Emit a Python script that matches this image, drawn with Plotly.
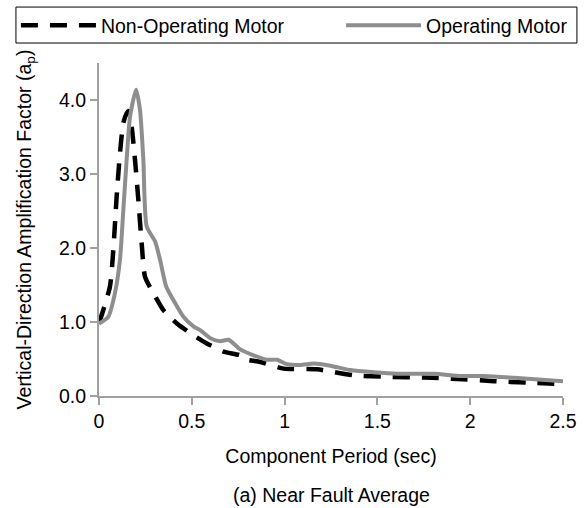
import plotly.graph_objects as go

# Non-operating motor (black dashed)
x_non = [0.0, 0.059, 0.077, 0.095, 0.113, 0.131, 0.149, 0.16, 0.176, 0.194, 0.212, 0.23, 0.248,
         0.293, 0.347, 0.42, 0.509, 0.581, 0.671, 0.761, 0.797, 0.869, 0.995, 1.175, 1.373,
         1.553, 1.751, 1.931, 2.129, 2.309, 2.5]
y_non = [0.98, 1.48, 1.97, 2.69, 3.28, 3.69, 3.82, 3.85, 3.64, 3.19, 2.65, 2.06, 1.61,
         1.39, 1.16, 0.98, 0.82, 0.71, 0.60, 0.55, 0.49, 0.46, 0.37, 0.36, 0.28,
         0.26, 0.25, 0.23, 0.20, 0.18, 0.16]

# Operating motor (gray solid)
x_op = [0.0, 0.05, 0.086, 0.113, 0.131, 0.149, 0.167, 0.2, 0.221, 0.239, 0.257, 0.302, 0.329,
        0.362, 0.40, 0.455, 0.509, 0.545, 0.6, 0.653, 0.698, 0.761, 0.833, 0.905, 0.959,
        1.013, 1.085, 1.157, 1.247, 1.355, 1.481, 1.607, 1.805, 1.949, 2.075, 2.273, 2.5]
y_op = [0.98, 1.07, 1.39, 1.84, 2.51, 3.19, 3.77, 4.14, 3.86, 3.19, 2.29, 2.09, 1.84,
        1.48, 1.30, 1.07, 0.94, 0.89, 0.78, 0.74, 0.76, 0.63, 0.55, 0.49, 0.49,
        0.43, 0.42, 0.44, 0.41, 0.35, 0.32, 0.30, 0.30, 0.27, 0.27, 0.24, 0.20]

x_ticks = [0, 0.5, 1, 1.5, 2, 2.5]
x_tick_labels = ["0", "0.5", "1", "1.5", "2", "2.5"]
y_ticks = [0, 1, 2, 3, 4]
y_tick_labels = ["0.0", "1.0", "2.0", "3.0", "4.0"]

FONT = "Arial, Liberation Sans, sans-serif"
FS = 19.5
AXIS_GRAY = "#a0a0a0"

fig = go.Figure()
fig.add_trace(go.Scatter(x=x_non, y=y_non, mode="lines", name="Non-Operating Motor", legend="legend",
                         line=dict(color="black", width=4.5, dash="17px,12px", shape="spline", smoothing=0.6)))
fig.add_trace(go.Scatter(x=x_op, y=y_op, mode="lines", name="Operating Motor", legend="legend2",
                         line=dict(color="#8e8e8e", width=4, shape="spline", smoothing=0.6)))

legend_common = dict(orientation="h", xanchor="left", y=1.171, yanchor="top",
                     borderwidth=0, itemwidth=75, font=dict(size=FS), bgcolor="rgba(0,0,0,0)")

fig.update_layout(
    width=585, height=508,
    margin=dict(l=99, r=22, t=63, b=112, autoexpand=False),
    paper_bgcolor="white", plot_bgcolor="white",
    font=dict(family=FONT, size=FS, color="black"),
    showlegend=True,
    legend=dict(x=-0.179, **legend_common),
    legend2=dict(x=0.5216, **legend_common),
    shapes=[dict(type="rect", xref="paper", yref="paper", x0=-0.179, x1=1.030, y0=1.060, y1=1.168,
                 line=dict(color="black", width=1), fillcolor="rgba(0,0,0,0)", layer="below")],
    xaxis=dict(range=[0, 2.5], tickvals=x_ticks, ticktext=x_tick_labels,
               showgrid=False, zeroline=False, showline=True, linecolor=AXIS_GRAY, linewidth=2,
               ticks="outside", tickcolor=AXIS_GRAY, ticklen=7, tickwidth=2,
               tickfont=dict(size=FS),
               title=dict(text="Component Period (sec)", standoff=18, font=dict(size=FS))),
    yaxis=dict(range=[0, 4.5], tickvals=y_ticks, ticktext=y_tick_labels,
               showgrid=False, zeroline=False, showline=True, linecolor=AXIS_GRAY, linewidth=2,
               ticks="outside", tickcolor=AXIS_GRAY, ticklen=7, tickwidth=2,
               tickfont=dict(size=FS),
               title=dict(text="Vertical-Direction Amplification Factor (a<sub>p</sub>)", standoff=22,
                          font=dict(size=FS))),
    annotations=[dict(text="(a) Near Fault Average", xref="paper", yref="paper",
                      x=0.5, y=-0.297, xanchor="center", yanchor="middle", showarrow=False,
                      font=dict(size=FS))],
)

fig.write_html("out.html")
